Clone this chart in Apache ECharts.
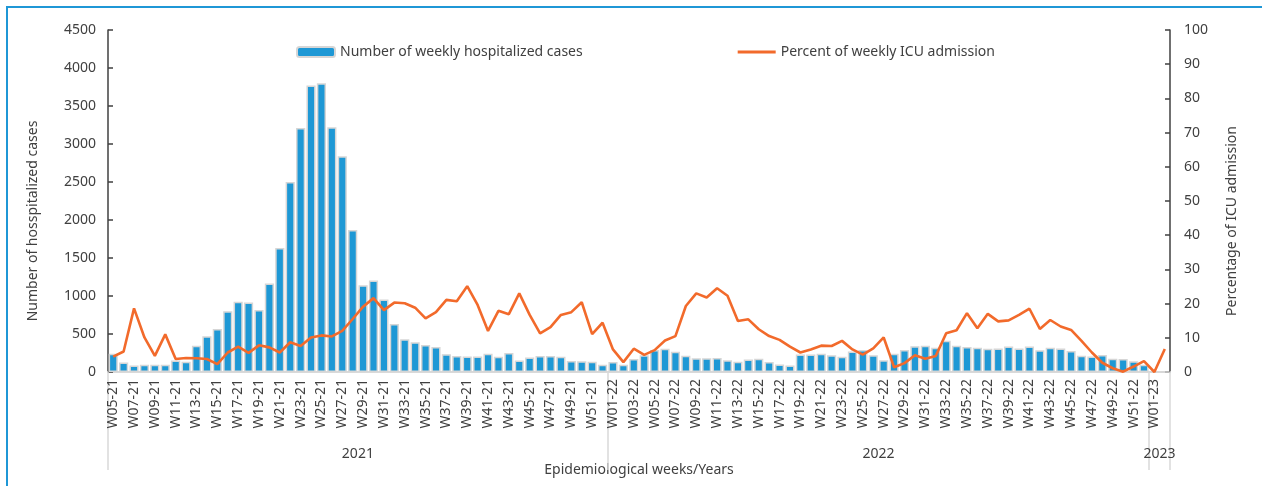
<!DOCTYPE html>
<html>
<head>
<meta charset="utf-8">
<script src="https://cdn.jsdelivr.net/npm/echarts@6/dist/echarts.min.js"></script>
<style>
  html, body { margin: 0; padding: 0; background: #ffffff; }
  #frame { position: absolute; left: 6px; top: 6px; width: 1256px; height: 480px;
           border-top: 2px solid #1f97d6; border-left: 2px solid #1f97d6; box-sizing: border-box; }
  #chart { position: absolute; left: 0; top: 0; width: 1262px; height: 486px; }
</style>
</head>
<body>
<div id="frame"></div>
<div id="chart"></div>
<script>
const categories = [
  'W05-21','W06-21','W07-21','W08-21','W09-21','W10-21','W11-21','W12-21','W13-21','W14-21',
  'W15-21','W16-21','W17-21','W18-21','W19-21','W20-21','W21-21','W22-21','W23-21','W24-21',
  'W25-21','W26-21','W27-21','W28-21','W29-21','W30-21','W31-21','W32-21','W33-21','W34-21',
  'W35-21','W36-21','W37-21','W38-21','W39-21','W40-21','W41-21','W42-21','W43-21','W44-21',
  'W45-21','W46-21','W47-21','W48-21','W49-21','W50-21','W51-21','W52-21',
  'W01-22','W02-22','W03-22','W04-22','W05-22','W06-22','W07-22','W08-22','W09-22','W10-22',
  'W11-22','W12-22','W13-22','W14-22','W15-22','W16-22','W17-22','W18-22','W19-22','W20-22',
  'W21-22','W22-22','W23-22','W24-22','W25-22','W26-22','W27-22','W28-22','W29-22','W30-22',
  'W31-22','W32-22','W33-22','W34-22','W35-22','W36-22','W37-22','W38-22','W39-22','W40-22',
  'W41-22','W42-22','W43-22','W44-22','W45-22','W46-22','W47-22','W48-22','W49-22','W50-22',
  'W51-22','W52-22',
  'W01-23','W02-23'
];

const hospitalized = [
  240, 125, 85, 95, 95, 95, 150, 135, 345, 470,
  565, 800, 925, 915, 815, 1165, 1630, 2500, 3210, 3770,
  3800, 3220, 2840, 1870, 1140, 1205, 955, 630, 430, 390,
  355, 330, 235, 210, 205, 205, 240, 200, 250, 150,
  190, 210, 210, 200, 145, 140, 135, 95,
  130, 95, 170, 220, 290, 305, 265, 215, 180, 180,
  185, 155, 135, 165, 175, 132, 100, 85, 230, 230,
  240, 220, 200, 270, 290, 220, 155, 240, 290, 340,
  345, 320, 410, 345, 330, 320, 305, 310, 335, 310,
  335, 285, 320, 310, 275, 215, 205, 225, 175, 170,
  140, 95,
  0, 0
];

const icuPercent = [
  4.5, 6.0, 18.6, 10.1, 4.7, 11.0, 3.8, 4.1, 4.0, 3.8,
  2.3, 5.7, 7.4, 5.6, 7.8, 7.2, 5.7, 8.7, 7.6, 10.1,
  10.7, 10.4, 12.0, 15.5, 19.1, 21.6, 18.1, 20.3, 20.1, 18.8,
  15.7, 17.5, 21.1, 20.7, 25.1, 19.6, 12.0, 17.9, 16.9, 23.0,
  16.7, 11.3, 13.1, 16.7, 17.5, 20.4, 11.1, 14.4,
  6.6, 2.9, 6.8, 5.0, 6.4, 9.2, 10.5, 19.3, 23.0, 21.8,
  24.5, 22.3, 14.9, 15.4, 12.5, 10.5, 9.4, 7.4, 5.7, 6.6,
  7.7, 7.6, 9.1, 6.6, 5.1, 6.9, 10.1, 1.4, 2.6, 4.9,
  3.9, 4.7, 11.3, 12.2, 17.2, 12.8, 17.0, 14.8, 15.1, 16.7,
  18.5, 12.6, 15.2, 13.3, 12.3, 9.1, 5.7, 2.7, 1.1, 0.1,
  1.6, 3.2,
  0, 6.7
];

const yearLabels = ['2021', '2022', '2023'];
const seriesNames = ['Number of weekly hospitalized cases', 'Percent of weekly ICU admission'];
const leftAxisName = 'Number of hosspitalized cases';
const rightAxisName = 'Percentage of ICU admission';
const xAxisName = 'Epidemiological weeks/Years';

// year group boundaries derived from the category labels
const suffixes = categories.map(c => c.slice(-2));
const yearStarts = [];
suffixes.forEach((s, i) => { if (i === 0 || s !== suffixes[i - 1]) yearStarts.push(i); });
const yearEdges = yearStarts.concat([categories.length]);
const yearMids = yearStarts.map((s, k) => (s + yearEdges[k + 1]) / 2);

const FONT = 'Noto Sans';
const TXT = '#404040';
const BAR_COLOR = '#1e98d5';
const LINE_COLOR = '#f26a2b';

const chart = echarts.init(document.getElementById('chart'), null, { renderer: 'canvas' });
chart.setOption({
  backgroundColor: 'transparent',
  textStyle: { fontFamily: FONT, color: TXT },
  animation: false,
  legend: {
    left: 291, top: 40,
    itemGap: 155,
    itemWidth: 38, itemHeight: 10,
    textStyle: { fontFamily: FONT, fontSize: 14, color: TXT },
    data: [
      { name: seriesNames[0] },
      { name: seriesNames[1], icon: 'path://M0,0H40V3H0Z', itemStyle: { color: LINE_COLOR } }
    ]
  },
  grid: { left: 108, right: 92, top: 30, bottom: 114, containLabel: false },
  xAxis: [
    {
      type: 'category',
      data: categories,
      boundaryGap: true,
      position: 'bottom',
      axisLine: { show: true, lineStyle: { color: '#d9d9d9', width: 2 } },
      axisTick: { show: false },
      axisLabel: {
        interval: 1, rotate: 90, margin: 7,
        fontFamily: FONT, fontSize: 14, color: TXT, hideOverlap: false
      },
      name: xAxisName,
      nameLocation: 'middle',
      nameGap: 91,
      nameTextStyle: { fontFamily: FONT, fontSize: 14, color: TXT }
    },
    {
      type: 'value',
      position: 'bottom',
      min: 0, max: categories.length,
      axisLine: { show: false },
      splitLine: { show: false },
      axisTick: { show: true, customValues: yearEdges, length: 98, lineStyle: { color: '#d9d9d9', width: 1.5 } },
      axisLabel: {
        show: true, customValues: yearMids, margin: 75,
        formatter: v => yearLabels[yearMids.indexOf(v)] || '',
        fontFamily: FONT, fontSize: 14, color: TXT
      }
    }
  ],
  yAxis: [
    {
      type: 'value', min: 0, max: 4500, interval: 500,
      position: 'left',
      axisLine: { show: true, lineStyle: { color: '#404040', width: 1.5 } },
      axisTick: { show: true, inside: true, length: 5, lineStyle: { color: '#404040', width: 1.5 } },
      splitLine: { show: false },
      axisLabel: { fontFamily: FONT, fontSize: 14, color: TXT, margin: 12, formatter: v => String(v) },
      name: leftAxisName,
      nameLocation: 'middle',
      nameGap: 68,
      nameRotate: 90,
      nameTextStyle: { fontFamily: FONT, fontSize: 14, color: TXT, padding: [0, 40, 0, 0] }
    },
    {
      type: 'value', min: 0, max: 100, interval: 10,
      position: 'right',
      axisLine: { show: true, lineStyle: { color: '#404040', width: 1.5 } },
      axisTick: { show: true, inside: true, length: 5, lineStyle: { color: '#404040', width: 1.5 } },
      splitLine: { show: false },
      axisLabel: { fontFamily: FONT, fontSize: 14, color: TXT, margin: 14, formatter: v => String(v) },
      name: rightAxisName,
      nameLocation: 'middle',
      nameGap: 55,
      nameRotate: 90,
      nameTextStyle: { fontFamily: FONT, fontSize: 14, color: TXT, padding: [0, 40, 0, 0] }
    }
  ],
  series: [
    {
      name: seriesNames[0],
      type: 'bar',
      xAxisIndex: 0, yAxisIndex: 0,
      data: hospitalized,
      barCategoryGap: '12%',
      itemStyle: { color: BAR_COLOR, borderColor: '#d6d6d6', borderWidth: 1.5 }
    },
    {
      name: seriesNames[1],
      type: 'line',
      xAxisIndex: 0, yAxisIndex: 1,
      data: icuPercent,
      symbol: 'none',
      smooth: false,
      lineStyle: { color: LINE_COLOR, width: 2.6 },
      itemStyle: { color: LINE_COLOR }
    }
  ]
});
</script>
</body>
</html>
